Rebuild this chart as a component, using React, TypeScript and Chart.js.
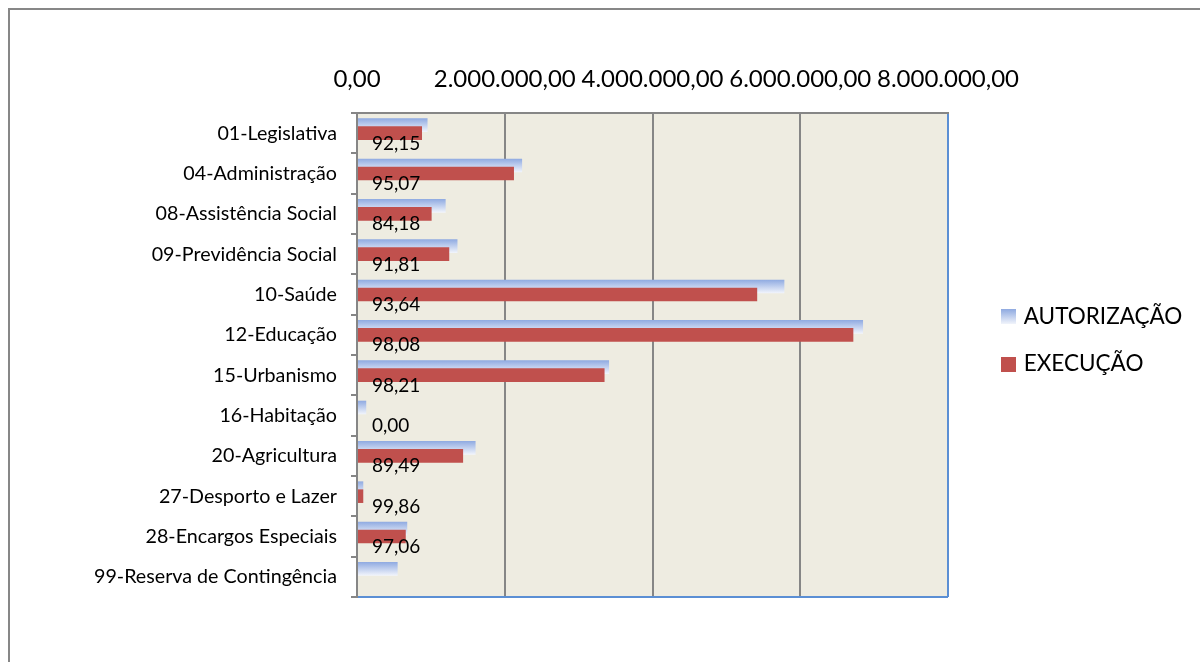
import React, { useEffect, useRef } from 'react';
import { Chart, registerables } from 'chart.js';

Chart.register(...registerables);

const categories = [
  '01-Legislativa',
  '04-Administração',
  '08-Assistência Social',
  '09-Previdência Social',
  '10-Saúde',
  '12-Educação',
  '15-Urbanismo',
  '16-Habitação',
  '20-Agricultura',
  '27-Desporto e Lazer',
  '28-Encargos Especiais',
  '99-Reserva de Contingência',
];
const autorizacao = [955000, 2235000, 1200000, 1360000, 5785000, 6850000, 3412000, 125000, 1605000, 85000, 680000, 550000];
const execucao = [880000, 2124800, 1010200, 1248600, 5417100, 6718500, 3350900, 0, 1436300, 84900, 660000, null];
const percentuais = [92.15, 95.07, 84.18, 91.81, 93.64, 98.08, 98.21, 0.0, 89.49, 99.86, 97.06, null];
const xTickValues = [0, 2000000, 4000000, 6000000, 8000000];
const seriesNames = ['AUTORIZAÇÃO', 'EXECUÇÃO'];

const GRAY = '#868686';
const FRAME_BLUE = '#5B8FD4';
const RED = '#C0504D';
const BLUE_TOP = '#8FAAE1';
const BLUE_BOTTOM = '#F2F5FC';
const PLOT_BG = '#EEECE1';
const FONT = 'Lato, "Open Sans", "Noto Sans", sans-serif';

const CANVAS_W = 1190;
const CANVAS_H = 652;
const LEGEND_FONT = 22.5;
const LEGEND_PAD = 25;
const LEGEND_POINT_W = 8;
const LEGEND_LEFT = 969.5;

const fmt = (v: number) =>
  Math.round(v).toString().replace(/\B(?=(\d{3})+(?!\d))/g, '.') + ',00';
const fmtPct = (p: number) => p.toFixed(2).replace('.', ',');

function makeSwatch(fill: (ctx: CanvasRenderingContext2D) => void) {
  const c = document.createElement('canvas');
  c.width = 15;
  c.height = 15;
  const ctx = c.getContext('2d')!;
  fill(ctx);
  return c;
}

export default function App() {
  const ref = useRef<HTMLCanvasElement | null>(null);

  useEffect(() => {
    if (!ref.current) return;
    Chart.defaults.font.family = FONT;
    Chart.defaults.color = '#000';

    const blueSwatch = makeSwatch((ctx) => {
      const g = ctx.createLinearGradient(0, 0, 0, 15);
      g.addColorStop(0, BLUE_TOP);
      g.addColorStop(1, BLUE_BOTTOM);
      ctx.fillStyle = g;
      ctx.fillRect(0, 0, 15, 15);
    });
    const redSwatch = makeSwatch((ctx) => {
      ctx.fillStyle = RED;
      ctx.fillRect(0, 0, 15, 15);
    });

    // legend natural width, so that its left edge lands where wanted
    const mctx = document.createElement('canvas').getContext('2d')!;
    mctx.font = 'normal ' + LEGEND_FONT + 'px ' + FONT;
    const textW = Math.max(...seriesNames.map((s) => mctx.measureText(s).width));
    const legendW = LEGEND_PAD + LEGEND_POINT_W + LEGEND_FONT / 2 + textW + 10;
    const padRight = Math.max(0, CANVAS_W - LEGEND_LEFT - legendW);

    const plotBg = {
      id: 'plotBg',
      beforeDraw(chart: any) {
        const { ctx, chartArea: a } = chart;
        ctx.save();
        ctx.fillStyle = PLOT_BG;
        ctx.fillRect(a.left, a.top, a.right - a.left, a.bottom - a.top);
        ctx.restore();
      },
    };

    const orderBars = {
      id: 'orderBars',
      beforeDatasetsDraw(chart: any) {
        const ctx = chart.ctx;
        const blue = chart.getDatasetMeta(0);
        blue.data.forEach((el: any) => {
          const p = el.getProps(['y', 'height'], true);
          const top = p.y - p.height / 2;
          const bottom = p.y + p.height / 2;
          const g = ctx.createLinearGradient(0, top, 0, bottom);
          g.addColorStop(0, BLUE_TOP);
          g.addColorStop(1, BLUE_BOTTOM);
          el.options = Object.assign({}, el.options, { backgroundColor: g });
        });
        const a = chart.chartArea;
        ctx.save();
        ctx.beginPath();
        ctx.rect(a.left, a.top, a.right - a.left, a.bottom - a.top);
        ctx.clip();
        [0, 1].forEach((i) => chart.getDatasetMeta(i).controller.draw());
        ctx.restore();
        return false;
      },
    };

    const valueLabels = {
      id: 'valueLabels',
      afterDraw(chart: any) {
        const { ctx, chartArea: a } = chart;
        const ys = chart.scales.y;
        ctx.save();
        ctx.font = '19px ' + FONT;
        ctx.fillStyle = '#000';
        ctx.textAlign = 'left';
        ctx.textBaseline = 'middle';
        percentuais.forEach((p, i) => {
          if (p === null) return;
          ctx.fillText(fmtPct(p), a.left + 15, ys.getPixelForValue(i) + 10.5);
        });
        ctx.restore();
      },
    };

    const chart = new Chart(ref.current, {
      type: 'bar',
      data: {
        labels: categories,
        datasets: [
          {
            label: seriesNames[0],
            data: autorizacao,
            backgroundColor: BLUE_TOP,
            borderWidth: 0,
            xAxisID: 'x',
            yAxisID: 'y',
          },
          {
            label: seriesNames[1],
            data: execucao,
            backgroundColor: RED,
            borderWidth: 0,
            xAxisID: 'x',
            yAxisID: 'y',
          },
          {
            label: '',
            data: categories.map(() => null),
            backgroundColor: 'rgba(0,0,0,0)',
            xAxisID: 'x',
            yAxisID: 'y',
          },
        ] as any,
      },
      options: {
        indexAxis: 'y',
        responsive: false,
        maintainAspectRatio: false,
        animation: false,
        categoryPercentage: 0.595,
        barPercentage: 1.7,
        layout: { padding: { top: 40, bottom: 31.4, left: 0, right: padRight } },
        scales: {
          x: {
            type: 'linear',
            position: 'top',
            min: 0,
            max: 8000000,
            afterBuildTicks: (s: any) => {
              s.ticks = xTickValues.map((v) => ({ value: v }));
            },
            ticks: {
              autoSkip: false,
              maxRotation: 0,
              padding: 19,
              font: { size: 24 },
              color: '#000',
              callback: (v: any) => fmt(Number(v)),
            },
            grid: {
              color: (c: any) => (c.tick && c.tick.value === 8000000 ? FRAME_BLUE : GRAY),
              lineWidth: 2,
              drawTicks: false,
            },
            border: { display: true, color: GRAY, width: 2 },
            afterFit: (s: any) => {
              s.height = 63;
            },
          },
          padB: {
            axis: 'x',
            type: 'linear',
            position: 'bottom',
            display: true,
            grid: { display: false, drawTicks: false },
            border: { display: false },
            ticks: { display: false },
            afterFit: (s: any) => {
              s.height = 33.6;
            },
          },
          y: {
            type: 'category',
            position: 'left',
            ticks: { autoSkip: false, padding: 14, font: { size: 19.7 }, color: '#000' },
            grid: {
              offset: true,
              drawOnChartArea: true,
              color: (c: any) => (c.index === undefined ? FRAME_BLUE : 'rgba(0,0,0,0)'),
              lineWidth: 2,
              drawTicks: true,
              tickLength: 6,
              tickColor: GRAY,
              tickWidth: 2,
            },
            border: { display: true, color: GRAY, width: 2 },
            afterFit: (s: any) => {
              s.width = 347;
            },
          },
          pad: {
            axis: 'y',
            type: 'category',
            position: 'right',
            display: true,
            grid: { display: false, drawTicks: false },
            border: { display: false },
            ticks: { display: false },
            afterFit: (s: any) => {
              s.width = 31.5;
            },
          },
        } as any,
        plugins: {
          tooltip: { enabled: false },
          title: { display: false },
          legend: {
            position: 'right',
            align: 'center',
            maxWidth: legendW + 1,
            labels: {
              usePointStyle: true,
              pointStyleWidth: LEGEND_POINT_W,
              padding: LEGEND_PAD,
              font: { size: LEGEND_FONT },
              color: '#000',
              generateLabels: () => [
                {
                  text: seriesNames[0],
                  pointStyle: blueSwatch,
                  fillStyle: BLUE_TOP,
                  strokeStyle: 'rgba(0,0,0,0)',
                  lineWidth: 0,
                  hidden: false,
                  datasetIndex: 0,
                },
                {
                  text: seriesNames[1],
                  pointStyle: redSwatch,
                  fillStyle: RED,
                  strokeStyle: 'rgba(0,0,0,0)',
                  lineWidth: 0,
                  hidden: false,
                  datasetIndex: 1,
                },
              ] as any,
            },
          },
        } as any,
      },
      plugins: [plotBg, orderBars, valueLabels],
    } as any);

    return () => chart.destroy();
  }, []);

  return (
    <div
      style={{
        position: 'fixed',
        left: 8,
        top: 8,
        width: 1192,
        height: 654,
        borderTop: '2px solid #878787',
        borderLeft: '2px solid #878787',
        boxSizing: 'border-box',
        background: '#fff',
      }}
    >
      <canvas
        ref={ref}
        width={CANVAS_W}
        height={CANVAS_H}
        style={{ display: 'block', width: CANVAS_W, height: CANVAS_H }}
      />
    </div>
  );
}
